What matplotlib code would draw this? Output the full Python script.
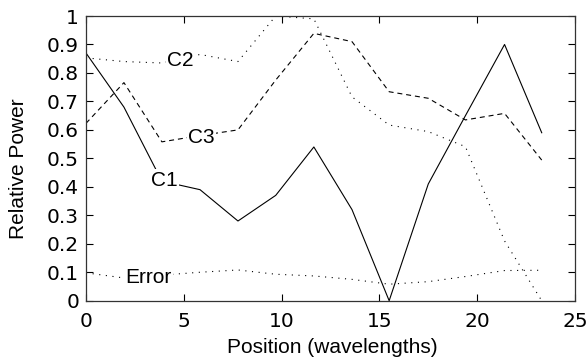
import numpy as np
import matplotlib
matplotlib.use("Agg")
import matplotlib.pyplot as plt

# position in wavelengths
pos = [0, 1.94, 3.88, 5.83, 7.77, 9.7, 11.65, 13.6, 15.5, 17.5, 19.4, 21.4, 23.3]

c1 = [0.87, 0.68, 0.42, 0.39, 0.28, 0.37, 0.54, 0.32, 0.0, 0.41, 0.65, 0.90, 0.59]
c2 = [0.853, 0.84, 0.835, 0.865, 0.84, 1.0, 0.99, 0.716, 0.617, 0.594, 0.541, 0.21, 0.0]
c3 = [0.623, 0.766, 0.558, 0.58, 0.60, 0.775, 0.939, 0.91, 0.734, 0.711, 0.635, 0.658, 0.494]
err = [0.098, 0.08, 0.09, 0.10, 0.108, 0.093, 0.087, 0.075, 0.058, 0.067, 0.085, 0.106, 0.107]

xticks = [0, 5, 10, 15, 20, 25]
yticks = [0, 0.1, 0.2, 0.3, 0.4, 0.5, 0.6, 0.7, 0.8, 0.9, 1]
ytick_labels = ["0", "0.1", "0.2", "0.3", "0.4", "0.5", "0.6", "0.7", "0.8", "0.9", "1"]

plt.rcParams['font.family'] = ['Liberation Sans', 'DejaVu Sans']

fig = plt.figure(figsize=(5.87, 3.58), dpi=100)
ax = fig.add_axes([0.1465, 0.160, 0.833, 0.7953])

lw = 0.8
ax.plot(pos, c1, color="black", lw=lw, linestyle="-")
ax.plot(pos, c2, color="black", lw=lw, linestyle=(0, (1, 5)))
ax.plot(pos, c3, color="black", lw=lw, linestyle=(0, (4.5, 3.5)))
ax.plot(pos, err, color="black", lw=lw, linestyle=(0, (1, 5)))

box = dict(facecolor="white", edgecolor="none", pad=1.0)
fs = 15
ax.text(4.83, 0.845, "C2", fontsize=fs, ha="center", va="center", bbox=box)
ax.text(5.91, 0.575, "C3", fontsize=fs, ha="center", va="center", bbox=box)
ax.text(4.0, 0.423, "C1", fontsize=fs, ha="center", va="center", bbox=box)
ax.text(3.17, 0.083, "Error", fontsize=fs, ha="center", va="center", bbox=box)

ax.set_xlim(0, 25)
ax.set_ylim(0, 1)
ax.set_xticks(xticks)
ax.set_xticklabels([str(t) for t in xticks], family="DejaVu Sans", fontsize=14.5)
ax.set_yticks(yticks)
ax.set_yticklabels(ytick_labels, family="DejaVu Sans", fontsize=14.5)
ax.tick_params(direction="in", top=True, right=True, labeltop=False, labelright=False,
               length=5, width=0.8)
ax.tick_params(axis="x", pad=8)
ax.tick_params(axis="y", pad=5)
for s in ax.spines.values():
    s.set_linewidth(0.9)
    s.set_color("#333333")

ax.set_xlabel("Position (wavelengths)", fontsize=fs, va="baseline")
ax.xaxis.set_label_coords(0.503, -0.1837)
ax.set_ylabel("Relative Power", fontsize=fs, va="center")
ax.yaxis.set_label_coords(-0.139, 0.463)

fig.savefig("out.png", dpi=100)
